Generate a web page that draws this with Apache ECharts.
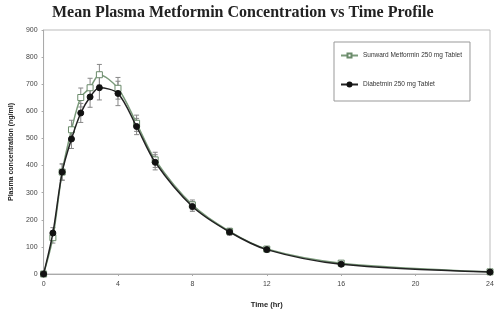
<!DOCTYPE html>
<html>
<head>
<meta charset="utf-8">
<script src="https://cdn.jsdelivr.net/npm/echarts@6/dist/echarts.min.js"></script>
<style>
  html, body { margin: 0; padding: 0; background: #fff; }
  #chart { width: 500px; height: 314px; }
</style>
</head>
<body>
<div id="chart"></div>
<script>
// time points (hr)
var times = [0, 0.5, 1, 1.5, 2, 2.5, 3, 4, 5, 6, 8, 10, 12, 16, 24];
// Sunward Metformin 250 mg Tablet
var sunward = [0, 134, 376, 532, 651, 687, 735, 685, 556, 421, 255, 157, 92, 40, 8];
var sunwardSd = [0, 20, 30, 35, 35, 35, 38, 40, 30, 28, 18, 12, 8, 6, 2];
// Diabetmin 250 mg Tablet
var diabetmin = [0, 151, 376, 498, 594, 653, 687, 666, 544, 412, 249, 155, 90, 36, 7];
var diabetminSd = [0, 20, 30, 35, 35, 38, 45, 45, 30, 28, 18, 12, 8, 6, 2];

var xTicks = [0, 4, 8, 12, 16, 20, 24];
var yTicks = [0, 100, 200, 300, 400, 500, 600, 700, 800, 900];

function pairs(vals) {
  return times.map(function (t, i) { return [t, vals[i]]; });
}
function errData(vals, sd) {
  return times.map(function (t, i) { return [t, vals[i] - sd[i], vals[i] + sd[i]]; });
}
function errorBar(data, color) {
  return {
    type: "custom",
    silent: true,
    z: 1,
    data: data,
    renderItem: function (params, api) {
      var lo = api.coord([api.value(0), api.value(1)]);
      var hi = api.coord([api.value(0), api.value(2)]);
      var w = 2.5;
      var st = { stroke: color, lineWidth: 1 };
      return {
        type: "group",
        children: [
          { type: "line", shape: { x1: lo[0], y1: lo[1], x2: hi[0], y2: hi[1] }, style: st },
          { type: "line", shape: { x1: lo[0] - w, y1: lo[1], x2: lo[0] + w, y2: lo[1] }, style: st },
          { type: "line", shape: { x1: hi[0] - w, y1: hi[1], x2: hi[0] + w, y2: hi[1] }, style: st },
        ],
      };
    },
  };
}

var chart = echarts.init(document.getElementById("chart"));
chart.setOption({
  animation: false,
  title: {
    text: "Mean Plasma Metformin Concentration vs Time Profile",
    left: 47,
    top: 0,
    textStyle: {
      fontFamily: "Liberation Serif",
      fontWeight: "bold",
      fontSize: 16,
      color: "#222",
    },
  },
  legend: {
    left: 334,
    top: 42,
    orient: "vertical",
    padding: [10, 8, 13, 6],
    itemGap: 22,
    itemWidth: 17,
    itemHeight: 5,
    borderColor: "#999",
    borderWidth: 1,
    textStyle: { fontSize: 6.5, color: "#333", fontFamily: "Liberation Sans" },
    data: ["Sunward Metformin 250 mg Tablet", "Diabetmin 250 mg Tablet"],
  },
  grid: { left: 35, right: 10, top: 30, bottom: 38, show: true, borderColor: "#bbb", borderWidth: 1 },
  xAxis: {
    type: "value",
    min: 0,
    max: 24,
    interval: 4,
    name: "Time (hr)",
    nameLocation: "middle",
    nameGap: 27,
    nameTextStyle: { fontSize: 7.5, fontWeight: "bold", color: "#222", fontFamily: "Liberation Sans" },
    axisLine: { lineStyle: { color: "#aaa" } },
    axisTick: { show: true, length: 2, lineStyle: { color: "#aaa" } },
    axisLabel: { fontSize: 7, color: "#444", margin: 7, fontFamily: "Liberation Sans",
      formatter: function (v) { return xTicks.indexOf(v) >= 0 ? v : ""; } },
    splitLine: { show: false },
  },
  yAxis: {
    type: "value",
    min: 0,
    max: 900,
    interval: 100,
    name: "Plasma concentration (ng/ml)",
    nameLocation: "middle",
    nameGap: 26,
    nameTextStyle: { fontSize: 7, fontWeight: "bold", color: "#222", fontFamily: "Liberation Sans" },
    axisLine: { show: true, lineStyle: { color: "#aaa" } },
    axisTick: { show: true, length: 2, lineStyle: { color: "#aaa" } },
    axisLabel: { fontSize: 7, color: "#444", margin: 6, fontFamily: "Liberation Sans",
      formatter: function (v) { return yTicks.indexOf(v) >= 0 ? v : ""; } },
    splitLine: { show: false },
  },
  series: [
    errorBar(errData(sunward, sunwardSd), "#888"),
    errorBar(errData(diabetmin, diabetminSd), "#888"),
    {
      name: "Sunward Metformin 250 mg Tablet",
      type: "line",
      smooth: 0.3,
      z: 3,
      data: pairs(sunward),
      symbol: "rect",
      symbolSize: 6,
      lineStyle: { color: "#7a9a7a", width: 1.5 },
      itemStyle: { color: "#fff", borderColor: "#6a8a6a", borderWidth: 1 },
    },
    {
      name: "Diabetmin 250 mg Tablet",
      type: "line",
      smooth: 0.3,
      z: 4,
      data: pairs(diabetmin),
      symbol: "circle",
      symbolSize: 6,
      lineStyle: { color: "#222", width: 1.5 },
      itemStyle: { color: "#111", borderColor: "#111", borderWidth: 1 },
    },
  ],
});
</script>
</body>
</html>
